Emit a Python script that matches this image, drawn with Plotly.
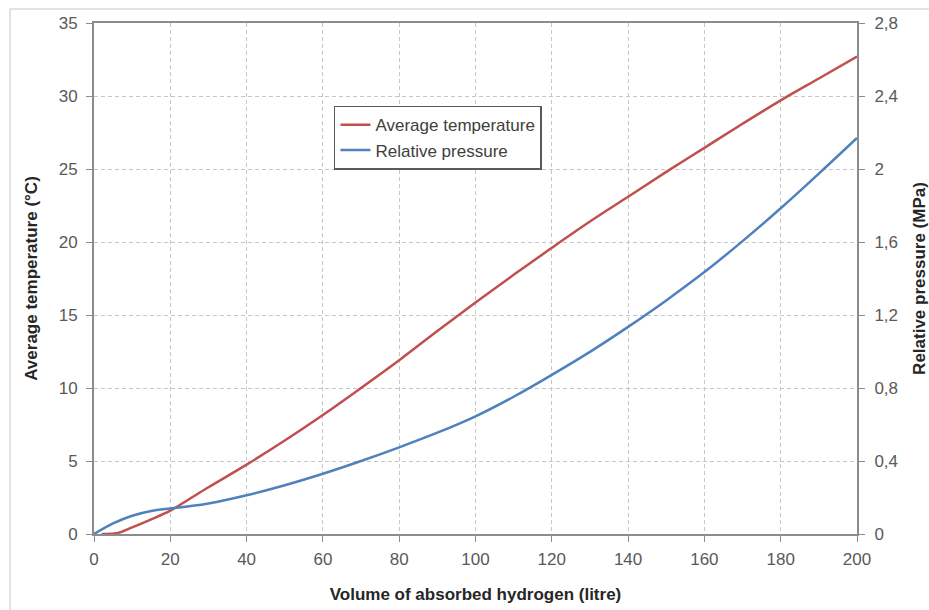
import plotly.graph_objects as go

# Data
volume_temp = [2, 6, 10, 15, 20, 25, 30, 40, 50, 60, 70, 80, 90, 100, 110, 120, 130, 140, 150, 160, 170, 180, 190, 200]
avg_temperature = [0.0, 0.05, 0.45, 1.0, 1.6, 2.4, 3.2, 4.75, 6.4, 8.15, 10.0, 11.9, 13.9, 15.85, 17.75, 19.6, 21.4, 23.1, 24.8, 26.45, 28.1, 29.7, 31.2, 32.7]

volume_pres = [0, 5, 10, 15, 20, 25, 30, 40, 50, 60, 70, 80, 90, 100, 110, 120, 130, 140, 150, 160, 170, 180, 190, 200]
rel_pressure = [0.0, 0.058, 0.1, 0.126, 0.14, 0.152, 0.167, 0.212, 0.267, 0.33, 0.4, 0.475, 0.555, 0.645, 0.752, 0.872, 0.998, 1.135, 1.28, 1.435, 1.605, 1.785, 1.975, 2.17]

x_ticks = [0, 20, 40, 60, 80, 100, 120, 140, 160, 180, 200]
y_ticks = [0, 5, 10, 15, 20, 25, 30, 35]
y2_ticks = [0, 0.4, 0.8, 1.2, 1.6, 2.0, 2.4, 2.8]
y2_labels = ["0", "0,4", "0,8", "1,2", "1,6", "2", "2,4", "2,8"]

RED = "#C0504D"
BLUE = "#4F81BD"
AXIS = "#8c8c8c"
GRID = "#c6c6c6"
TICKC = "#595959"
TITLEC = "#262626"
FONT = "Liberation Sans, Arial, sans-serif"

fig = go.Figure()
fig.add_trace(go.Scatter(x=volume_temp, y=avg_temperature, mode="lines",
                         name="Average temperature",
                         line=dict(color=RED, width=2.5, shape="spline")))
fig.add_trace(go.Scatter(x=volume_pres, y=rel_pressure, mode="lines",
                         name="Relative pressure", yaxis="y2",
                         line=dict(color=BLUE, width=2.5, shape="spline")))

fig.update_layout(
    width=929, height=610,
    margin=dict(l=94, r=72, t=23, b=76, autoexpand=False),
    paper_bgcolor="white", plot_bgcolor="white",
    font=dict(family=FONT, size=17, color=TICKC),
    xaxis=dict(
        range=[0, 200], tickvals=x_ticks, ticks="outside", ticklen=6, tickcolor=AXIS,
        ticklabelstandoff=3, automargin=False,
        showline=True, linecolor=AXIS, linewidth=2, mirror=True,
        showgrid=True, gridcolor=GRID, griddash="4px,3px", gridwidth=1,
        zeroline=False,
        tickfont=dict(size=17, color=TICKC),
        title=dict(text="<b>Volume of absorbed hydrogen (litre)</b>",
                   font=dict(size=17, color=TITLEC), standoff=20),
    ),
    yaxis=dict(
        range=[0, 35], tickvals=y_ticks, ticks="outside", ticklen=6, tickcolor=AXIS,
        ticklabelstandoff=5, automargin=False,
        showline=True, linecolor=AXIS, linewidth=2, mirror=True,
        showgrid=True, gridcolor=GRID, griddash="4px,3px", gridwidth=1,
        zeroline=False,
        tickfont=dict(size=17, color=TICKC),
        title=dict(text="<b>Average temperature (°C)</b>",
                   font=dict(size=17, color=TITLEC), standoff=17),
    ),
    yaxis2=dict(
        range=[0, 2.8], tickvals=y2_ticks, ticktext=y2_labels,
        overlaying="y", side="right", ticks="outside", ticklen=6, tickcolor=AXIS,
        ticklabelstandoff=6, automargin=False,
        showline=True, linecolor=AXIS, linewidth=2,
        showgrid=False, zeroline=False,
        tickfont=dict(size=17, color=TICKC),
        title=dict(text="<b>Relative pressure (MPa)</b>",
                   font=dict(size=17, color=TITLEC), standoff=16),
    ),
    legend=dict(
        x=0.3145, y=0.838, xanchor="left", yanchor="top",
        bgcolor="white", bordercolor="#595959", borderwidth=1.5,
        font=dict(size=17, color="#404040"),
        itemwidth=30, tracegroupgap=0,
        entrywidth=175, entrywidthmode="pixels",
    ),
    showlegend=True,
    shapes=[dict(type="rect", xref="paper", yref="paper",
                 x0=-0.110, x1=1.102, y0=-0.159, y1=1.0274,
                 line=dict(color="#d9d9d9", width=1.5), layer="below")],
)

fig.write_html("out.html")
